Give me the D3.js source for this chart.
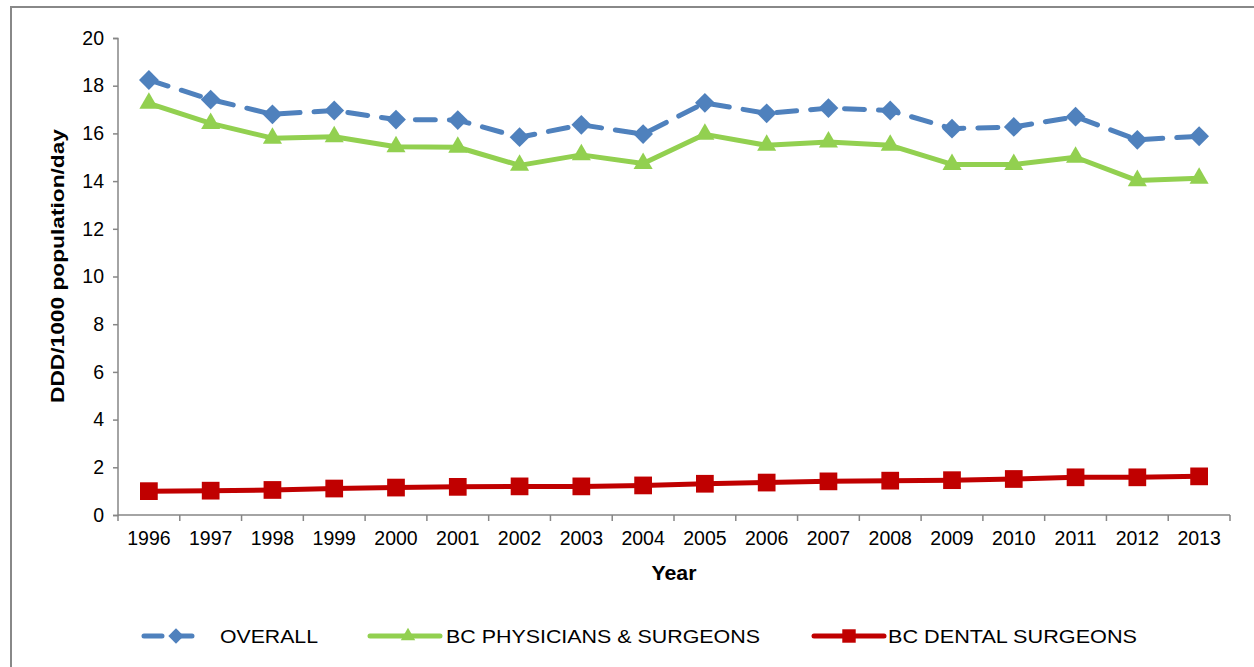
<!DOCTYPE html>
<html><head><meta charset="utf-8">
<script src="https://cdn.jsdelivr.net/npm/d3@7"></script>
<style>body{margin:0;background:#fff}svg{display:block}text{font-family:"Liberation Sans",Arial,sans-serif}</style>
</head><body><svg id="c" width="1254" height="667"></svg>
<script>
const years = ["1996","1997","1998","1999","2000","2001","2002","2003","2004","2005","2006","2007","2008","2009","2010","2011","2012","2013"];
const overall = [18.24,17.42,16.8,16.96,16.58,16.56,15.84,16.36,15.97,17.28,16.84,17.06,16.96,16.2,16.27,16.7,15.73,15.88];
const physicians = [17.26,16.42,15.8,15.86,15.44,15.42,14.66,15.1,14.74,15.96,15.5,15.64,15.5,14.7,14.7,15.0,14.02,14.12];
const dental = [1.0,1.02,1.05,1.11,1.15,1.18,1.2,1.2,1.24,1.31,1.36,1.41,1.44,1.46,1.51,1.58,1.58,1.62];
const yTicks = [0,2,4,6,8,10,12,14,16,18,20];
const seriesNames = ["OVERALL","BC PHYSICIANS & SURGEONS","BC DENTAL SURGEONS"];

const svg = d3.select("#c");
const axisColor = "#868686";
const FF = "'Liberation Sans',Arial,sans-serif";
// outer frame
svg.append("rect").attr("x",11).attr("y",7).attr("width",1260).attr("height",680)
  .attr("fill","none").attr("stroke","#888").attr("stroke-width",2);

const x = d3.scaleBand().domain(years).range([118,1230]);
const y = d3.scaleLinear().domain([0,20]).range([515,38]);

// y axis
const ya = svg.append("g").attr("transform","translate(118,0)")
  .call(d3.axisLeft(y).tickValues(yTicks).tickSize(5).tickPadding(9));
ya.select(".domain").attr("stroke",axisColor).attr("stroke-width",1.5).attr("d","M-5,38.5H0V515.5H-5");
ya.selectAll(".tick line").attr("stroke",axisColor).attr("stroke-width",1.5);
ya.selectAll(".tick text").attr("font-size",19.5).attr("fill","#000").style("font-family",FF);

// x axis
const xa = svg.append("g").attr("transform","translate(0,515)")
  .call(d3.axisBottom(x).tickSize(0).tickPadding(16));
xa.select(".domain").attr("stroke",axisColor).attr("stroke-width",1.5).attr("d","M118,0H1230");
xa.selectAll(".tick text").attr("font-size",19.5).attr("fill","#000").style("font-family",FF);
const bounds = years.map(d=>x(d)).concat([x.range()[1]]);
svg.append("g").selectAll("line").data(bounds).join("line")
  .attr("x1",d=>d).attr("x2",d=>d).attr("y1",515).attr("y2",521)
  .attr("stroke",axisColor).attr("stroke-width",1.5);

// titles
svg.append("text").attr("x",674).attr("y",580).attr("text-anchor","middle")
  .attr("font-size",19.5).attr("font-weight","bold").attr("textLength",45).attr("lengthAdjust","spacingAndGlyphs").text("Year");
svg.append("text").attr("transform","translate(64,266) rotate(-90)").attr("text-anchor","middle")
  .attr("font-size",17.5).attr("font-weight","bold").attr("textLength",274).attr("lengthAdjust","spacingAndGlyphs")
  .text("DDD/1000 population/day");

const cx = d => x(d) + x.bandwidth()/2;
const line = d3.line().x(d=>cx(d.yr)).y(d=>y(d.v));
const mk = arr => years.map((yr,i)=>({yr,v:arr[i]}));

const series = [
  {data:mk(overall), color:"#4F81BD", dash:"20,14", type:d3.symbolSquare2, sz:250, lsz:150, rot:45},
  {data:mk(physicians), color:"#92D050", dash:null, type:d3.symbolTriangle2, sz:260, lsz:150, rot:0},
  {data:mk(dental), color:"#C00000", dash:null, type:d3.symbolSquare2, sz:400, lsz:230, rot:0}
];
[2,1,0].forEach(i=>{
  const s = series[i];
  svg.append("path").datum(s.data).attr("d",line).attr("fill","none")
    .attr("stroke",s.color).attr("stroke-width",5).attr("stroke-linecap","round")
    .attr("stroke-linejoin","round").attr("stroke-dasharray",s.dash);
  const sym = d3.symbol().type(s.type).size(s.sz)();
  svg.append("g").selectAll("path").data(s.data).join("path")
    .attr("d",sym).attr("fill",s.color)
    .attr("transform",d=>`translate(${cx(d.yr)},${y(d.v)}) rotate(${s.rot})`);
});

// legend
const leg = [
  {x1:144,x2:202,mx:176,tx:220,tl:98,i:0},
  {x1:370,x2:440,mx:408,tx:446,tl:314,i:1},
  {x1:814,x2:884,mx:849,tx:888,tl:249,i:2}
];
const ly = 636;
leg.forEach(l=>{
  const s = series[l.i];
  svg.append("line").attr("x1",l.x1).attr("x2",l.x2).attr("y1",ly).attr("y2",ly)
    .attr("stroke",s.color).attr("stroke-width",5).attr("stroke-linecap","round")
    .attr("stroke-dasharray",s.dash?"18,12":null);
  svg.append("path").attr("d",d3.symbol().type(s.type).size(s.lsz)()).attr("fill",s.color)
    .attr("transform",`translate(${l.mx},${ly}) rotate(${s.rot})`);
  svg.append("text").attr("x",l.tx).attr("y",ly+6.5).attr("font-size",18).attr("fill","#000")
    .attr("textLength",l.tl).attr("lengthAdjust","spacingAndGlyphs").text(seriesNames[l.i]);
});
</script></body></html>
